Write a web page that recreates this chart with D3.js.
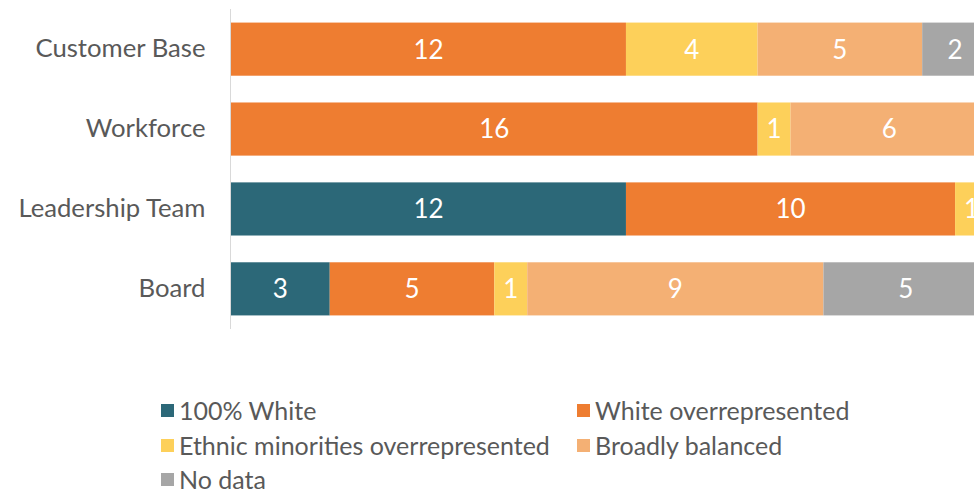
<!DOCTYPE html>
<html>
<head>
<meta charset="utf-8">
<script src="https://cdn.jsdelivr.net/npm/d3@7"></script>
<style>
  html, body { margin: 0; padding: 0; background: #fff; }
  svg { display: block; font-family: Lato, "Open Sans", sans-serif; }
</style>
</head>
<body>
<svg id="chart" width="974" height="491"></svg>
<script>
// Groups shown top to bottom
const categories = ["Customer Base", "Workforce", "Leadership Team", "Board"];
// Series in stacking order
const seriesNames = ["100% White", "White overrepresented", "Ethnic minorities overrepresented", "Broadly balanced", "No data"];
const white100      = [0, 0, 12, 3];
const whiteOver     = [12, 16, 10, 5];
const minoritiesOver= [4, 1, 1, 1];
const balanced      = [5, 6, 0, 9];
const noData        = [2, 0, 0, 5];
const colors = ["#2c6878", "#ee7d31", "#fdd05a", "#f4b074", "#a6a6a6"];
const xMax = 23;

const seriesValues = [white100, whiteOver, minoritiesOver, balanced, noData];
const rows = categories.map((c, i) => {
  const r = { category: c };
  seriesNames.forEach((s, k) => r[s] = seriesValues[k][i]);
  return r;
});
const stacked = d3.stack().keys(seriesNames)(rows);

const svg = d3.select("#chart");
const x = d3.scaleLinear().domain([0, xMax]).range([231, 988]);
const y = d3.scaleBand().domain(categories).range([9, 329]).paddingInner(0.335).paddingOuter(0.17);

// Category axis
const yAxis = svg.append("g").attr("transform", "translate(230.5,0)")
  .call(d3.axisLeft(y).tickSize(0).tickPadding(25));
yAxis.select(".domain").attr("stroke", "#d9d9d9").attr("stroke-width", 1).attr("d", "M0,9V329");
yAxis.selectAll("text").attr("fill", "#595959").style("font-size", "25.7px").style("font-family", "Lato, sans-serif");

// Stacked segments
const layers = svg.append("g").selectAll("g").data(stacked).join("g")
  .attr("fill", (d, i) => colors[i]);
layers.selectAll("rect").data(d => d.map(p => ({ p, key: d.key }))).join("rect")
  .attr("x", d => x(d.p[0]))
  .attr("y", d => y(d.p.data.category))
  .attr("width", d => x(d.p[1]) - x(d.p[0]))
  .attr("height", y.bandwidth());

// Value labels
layers.selectAll("text").data(d => d.map(p => ({ p, key: d.key })).filter(d => d.p[1] - d.p[0] > 0)).join("text")
  .attr("x", d => (x(d.p[0]) + x(d.p[1])) / 2)
  .attr("y", d => y(d.p.data.category) + y.bandwidth() / 2)
  .attr("dy", "0.36em")
  .attr("text-anchor", "middle")
  .attr("fill", "#fff")
  .style("font-size", "26px")
  .text(d => d.p[1] - d.p[0]);

// Legend
const legendPos = [[161, 411], [577, 411], [161, 446], [577, 446], [161, 480]];
const legend = svg.append("g").selectAll("g").data(seriesNames).join("g")
  .attr("transform", (d, i) => `translate(${legendPos[i][0]},${legendPos[i][1]})`);
legend.append("rect").attr("x", 0).attr("y", -7).attr("width", 13).attr("height", 13)
  .attr("fill", (d, i) => colors[i]);
legend.append("text").attr("x", 18).attr("y", 0).attr("dy", "0.35em")
  .attr("fill", "#595959").style("font-size", "25px").text(d => d);
</script>
</body>
</html>
